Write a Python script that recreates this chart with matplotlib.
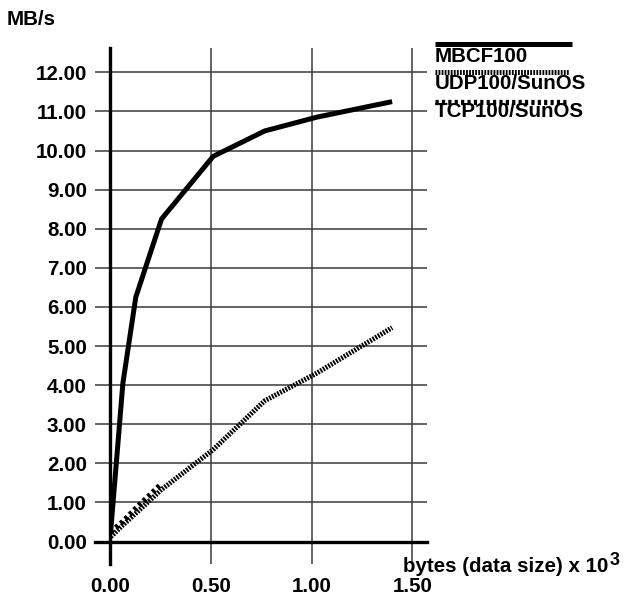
import matplotlib
matplotlib.use("Agg")
import matplotlib.pyplot as plt
from matplotlib.lines import Line2D

plt.rcParams['font.family'] = ['Liberation Sans', 'DejaVu Sans']
plt.rcParams['font.weight'] = 'bold'
plt.rcParams['lines.scale_dashes'] = False

# ---- data (bytes x 10^3, MB/s) ----
sizes = [0.004, 0.064, 0.128, 0.256, 0.512, 0.768, 1.024, 1.4]
mbcf100 = [0.30, 4.05, 6.25, 8.25, 9.85, 10.50, 10.85, 11.25]
udp100 = [0.12, 0.42, 0.72, 1.33, 2.35, 3.60, 4.30, 5.47]
tcp_sizes = [0.004, 0.064, 0.128, 0.25]
tcp100 = [0.25, 0.51, 0.85, 1.45]

series_names = ["MBCF100", "UDP100/SunOS", "TCP100/SunOS"]
xticks = [0.0, 0.5, 1.0, 1.5]
yticks = list(range(0, 13))
ylabel = "MB/s"
xlabel = "bytes (data size) x 10"
xlabel_exp = "3"

W, H = 624, 597
DPI = 100
FS = 14.8

styles = {
    "MBCF100": dict(color="black", lw=3.6, linestyle="-", solid_capstyle="butt"),
    "UDP100/SunOS": dict(color="black", lw=3.6, linestyle=(0, (1.3, 0.9)), dash_capstyle="butt"),
    "TCP100/SunOS": dict(color="black", lw=3.8, linestyle=(0, (2.3, 2.3)), dash_capstyle="butt"),
}

fig = plt.figure(figsize=(W / DPI, H / DPI), dpi=DPI)
ax = fig.add_axes([110 / W, (H - 541.5) / H, 317 / W, 493.2 / H])
ax.set_xlim(0, 317 / 201.5)
ax.set_ylim(0, 493.2 / 39.1)
for s in ax.spines.values():
    s.set_visible(False)

gcol = "#3a3a3a"
ax.set_xticks(xticks)
ax.set_xticklabels([f"{v:.2f}" for v in xticks])
ax.set_yticks(yticks)
ax.set_yticklabels([f"{v:.2f}" for v in yticks])
ax.grid(True, color=gcol, lw=1.1)
ax.tick_params(axis="y", length=10.8, width=1.1, color=gcol, pad=5.8, labelsize=FS)
ax.tick_params(axis="x", length=15.8, width=1.1, color=gcol, pad=9.5, labelsize=FS)
for lab in ax.get_xticklabels() + ax.get_yticklabels():
    lab.set_fontweight("bold")

# thick axis lines
ax.axhline(0, xmin=-15 / 317, xmax=1, color="black", lw=2.4, clip_on=False, zorder=5)
ax.axvline(0, ymin=-22 / 493.2, ymax=1, color="black", lw=2.4, clip_on=False, zorder=5)

ax.plot(sizes, mbcf100, zorder=6, **styles["MBCF100"])
ax.plot(sizes, udp100, zorder=6, **styles["UDP100/SunOS"])
ax.plot(tcp_sizes, tcp100, zorder=7, **styles["TCP100/SunOS"])

# manual legend: sample line above label
leg_y = [44.3, 71.7, 101.7]
leg_base = [62.0, 89.0, 116.7]
leg_len = [137, 134, 132]
for name, ly, lb, ll in zip(series_names, leg_y, leg_base, leg_len):
    fig.add_artist(Line2D([435 / W, (435 + ll) / W], [1 - ly / H, 1 - ly / H],
                          transform=fig.transFigure, **styles[name]))
    fig.text(435 / W, 1 - lb / H, name, fontsize=FS, fontweight="bold",
             ha="left", va="baseline")

fig.text(7 / W, 1 - 25 / H, ylabel, fontsize=FS, fontweight="bold", ha="left", va="baseline")
xt = fig.text(403 / W, 1 - 572 / H, xlabel, fontsize=FS, fontweight="bold",
              ha="left", va="baseline")
fig.canvas.draw()
bb = xt.get_window_extent()
fig.text((bb.x1 + 1) / W, (H - 565) / H, xlabel_exp, fontsize=13, fontweight="bold",
         ha="left", va="baseline")

fig.savefig("out.png", dpi=DPI)
